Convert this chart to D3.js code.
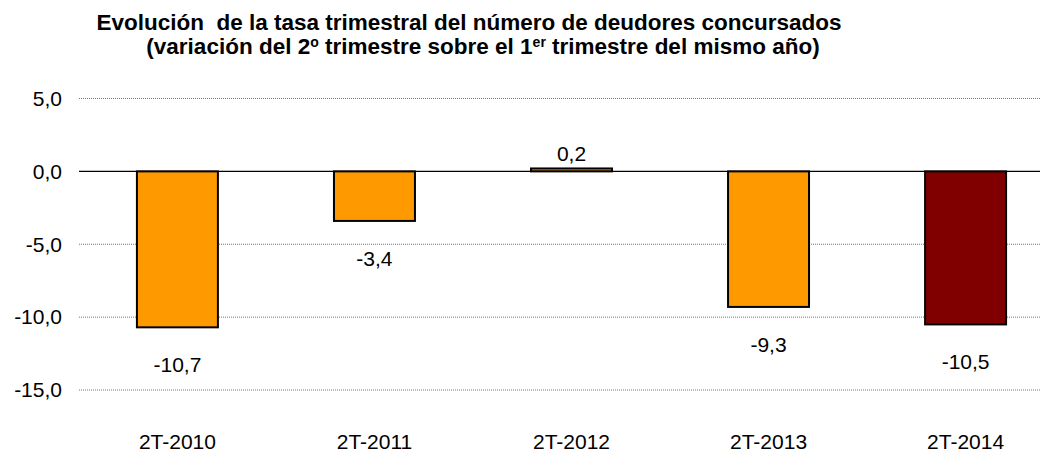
<!DOCTYPE html>
<html>
<head>
<meta charset="utf-8">
<script src="https://cdn.jsdelivr.net/npm/d3@7"></script>
<style>
  body { margin: 0; background: #fff; }
  text { font-family: "Liberation Sans", Arial, sans-serif; fill: #000; }
  .title { font-weight: bold; font-size: 22.5px; white-space: pre; }
  .tick-label { font-size: 21px; }
  .bar-label { font-size: 21px; }
</style>
</head>
<body>
<div id="chart"></div>
<script>
// data
var categories = ["2T-2010", "2T-2011", "2T-2012", "2T-2013", "2T-2014"];
var values = [-10.7, -3.4, 0.2, -9.3, -10.5];
var barColors = ["#FF9900", "#FF9900", "#FF9900", "#FF9900", "#800000"];
var yTicks = [5, 0, -5, -10, -15];

var W = 1053, H = 452;
var margin = { top: 98.5, right: 13, bottom: 62, left: 79 };
var width = W - margin.left - margin.right;
var height = H - margin.top - margin.bottom;

var svg = d3.select("#chart").append("svg")
    .attr("width", W)
    .attr("height", H);

// title, two lines with superscripts
svg.append("text").attr("class", "title").attr("text-anchor", "middle")
    .attr("x", 469).attr("y", 30)
    .text("Evolución  de la tasa trimestral del número de deudores concursados");
var t2 = svg.append("text").attr("class", "title").attr("text-anchor", "middle")
    .attr("x", 483).attr("y", 54);
t2.append("tspan").text("(variación del 2");
t2.append("tspan").attr("dy", -7).style("font-size", "14px").text("o");
t2.append("tspan").attr("dy", 7).text(" trimestre sobre el 1");
t2.append("tspan").attr("dy", -7).style("font-size", "14px").text("er");
t2.append("tspan").attr("dy", 7).text(" trimestre del mismo año)");

var g = svg.append("g")
    .attr("transform", "translate(" + margin.left + "," + margin.top + ")");

var y = d3.scaleLinear().domain([5, -15]).range([0, height]);
var x = d3.scaleBand().domain(categories).range([0, 985]).paddingInner(0.589).paddingOuter(0.294);

var fmt = function(v) { return d3.format(".1f")(v).replace(".", ",").replace("−", "-"); };

// gridlines
g.selectAll(".grid")
    .data(yTicks.filter(function(d) { return d !== 0; }))
    .enter().append("line")
    .attr("class", "grid")
    .attr("x1", 0).attr("x2", width)
    .attr("y1", function(d) { return y(d); })
    .attr("y2", function(d) { return y(d); })
    .attr("stroke", "#777")
    .attr("stroke-width", 1)
    .attr("stroke-dasharray", "1,1");

// y tick labels
g.selectAll(".tick-label")
    .data(yTicks)
    .enter().append("text")
    .attr("class", "tick-label")
    .attr("x", -17)
    .attr("y", function(d) { return y(d); })
    .attr("dy", "0.35em")
    .attr("text-anchor", "end")
    .text(fmt);

// bars
g.selectAll(".bar")
    .data(values)
    .enter().append("rect")
    .attr("class", "bar")
    .attr("x", function(d, i) { return x(categories[i]); })
    .attr("width", x.bandwidth())
    .attr("y", function(d) { return y(Math.max(0, d)); })
    .attr("height", function(d) { return Math.abs(y(d) - y(0)); })
    .attr("fill", function(d, i) { return barColors[i]; })
    .attr("stroke", "#000")
    .attr("stroke-width", 2);

// zero line
g.append("line")
    .attr("x1", 0).attr("x2", width)
    .attr("y1", y(0)).attr("y2", y(0))
    .attr("stroke", "#000").attr("stroke-width", 1.2);

// value labels
g.selectAll(".bar-label")
    .data(values)
    .enter().append("text")
    .attr("class", "bar-label")
    .attr("text-anchor", "middle")
    .attr("x", function(d, i) { return x(categories[i]) + x.bandwidth() / 2; })
    .attr("y", function(d) { return d >= 0 ? y(d) - 7 : y(d) + 45; })
    .text(fmt);

// category labels
g.selectAll(".cat-label")
    .data(categories)
    .enter().append("text")
    .attr("class", "tick-label cat-label")
    .attr("text-anchor", "middle")
    .attr("x", function(d) { return x(d) + x.bandwidth() / 2; })
    .attr("y", height + 59)
    .text(function(d) { return d; });
</script>
</body>
</html>
